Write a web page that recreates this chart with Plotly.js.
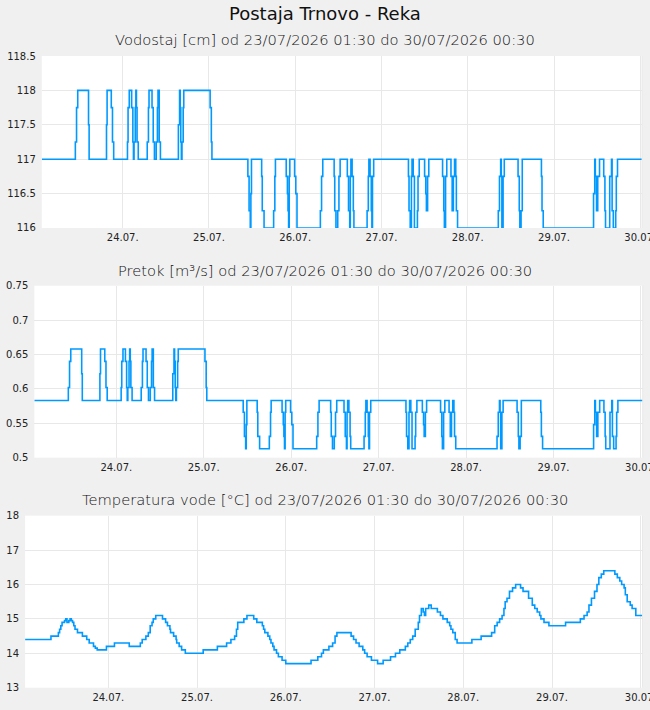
<!DOCTYPE html>
<html><head><meta charset="utf-8">
<script src="https://cdn.plot.ly/plotly-3.0.1.min.js"></script>
<style>html,body{margin:0;padding:0;background:#f0f0f0;overflow:hidden}#chart{width:650px;height:710px}</style>
</head><body><div id="chart"></div><script>
const mainTitle = 'Postaja Trnovo - Reka';
const subTitles = [
  'Vodostaj [cm] od 23/07/2026 01:30 do 30/07/2026 00:30',
  'Pretok [m³/s] od 23/07/2026 01:30 do 30/07/2026 00:30',
  'Temperatura vode [°C] od 23/07/2026 01:30 do 30/07/2026 00:30'
];
const xRange = ['2026-07-23 01:30', '2026-07-30 00:30'];
const dayTicks = ['2026-07-24','2026-07-25','2026-07-26','2026-07-27','2026-07-28','2026-07-29','2026-07-30'];
const dayLabels = ['24.07.','25.07.','26.07.','27.07.','28.07.','29.07.','30.07.'];

// water level [cm] and discharge [m3/s] - value changes (step series)
const levelTimes = [
 '2026-07-23 01:30','2026-07-23 10:50','2026-07-23 11:10','2026-07-23 11:30','2026-07-23 14:30','2026-07-23 14:40','2026-07-23 19:30','2026-07-23 19:40','2026-07-23 20:50','2026-07-23 21:10','2026-07-23 21:30',
 '2026-07-24 01:20','2026-07-24 01:30','2026-07-24 01:50','2026-07-24 02:30','2026-07-24 02:50','2026-07-24 03:00','2026-07-24 03:10','2026-07-24 03:30','2026-07-24 03:40','2026-07-24 03:50','2026-07-24 04:00','2026-07-24 04:20','2026-07-24 06:50','2026-07-24 07:10','2026-07-24 07:20','2026-07-24 08:10','2026-07-24 08:30','2026-07-24 08:50','2026-07-24 09:20','2026-07-24 09:40','2026-07-24 09:50','2026-07-24 10:10','2026-07-24 10:30','2026-07-24 15:30','2026-07-24 15:50','2026-07-24 16:00','2026-07-24 16:10','2026-07-24 16:20','2026-07-24 16:30','2026-07-24 16:50','2026-07-24 17:00',
 '2026-07-25 00:20','2026-07-25 00:40','2026-07-25 00:50','2026-07-25 10:50','2026-07-25 11:10','2026-07-25 11:30','2026-07-25 11:40','2026-07-25 11:50','2026-07-25 14:40','2026-07-25 14:50','2026-07-25 15:20','2026-07-25 18:00','2026-07-25 18:20','2026-07-25 18:30','2026-07-25 21:30','2026-07-25 21:50','2026-07-25 22:00','2026-07-25 22:10','2026-07-25 22:20','2026-07-25 22:30','2026-07-25 23:50',
 '2026-07-26 00:10','2026-07-26 00:30','2026-07-26 07:00','2026-07-26 07:20','2026-07-26 07:40','2026-07-26 10:50','2026-07-26 11:00','2026-07-26 11:20','2026-07-26 11:50','2026-07-26 12:10','2026-07-26 12:30','2026-07-26 14:30','2026-07-26 14:50','2026-07-26 15:10','2026-07-26 15:20','2026-07-26 15:30','2026-07-26 15:50','2026-07-26 16:10','2026-07-26 16:20','2026-07-26 20:00','2026-07-26 20:20','2026-07-26 20:30','2026-07-26 20:50','2026-07-26 21:10','2026-07-26 21:20','2026-07-26 21:30','2026-07-26 21:50',
 '2026-07-27 07:30','2026-07-27 07:40','2026-07-27 08:00','2026-07-27 08:20','2026-07-27 08:30','2026-07-27 08:50','2026-07-27 09:10','2026-07-27 10:00','2026-07-27 10:10','2026-07-27 10:30','2026-07-27 12:00','2026-07-27 12:20','2026-07-27 12:30','2026-07-27 12:50','2026-07-27 13:10','2026-07-27 17:00','2026-07-27 17:20','2026-07-27 17:30','2026-07-27 17:50','2026-07-27 18:10','2026-07-27 19:20','2026-07-27 19:40','2026-07-27 20:00','2026-07-27 20:20','2026-07-27 20:40','2026-07-27 20:50','2026-07-27 21:10',
 '2026-07-28 08:30','2026-07-28 08:50','2026-07-28 09:10','2026-07-28 09:20','2026-07-28 09:30','2026-07-28 09:50','2026-07-28 10:10','2026-07-28 14:00','2026-07-28 14:20','2026-07-28 14:30','2026-07-28 14:50','2026-07-28 15:10','2026-07-28 20:30','2026-07-28 20:40','2026-07-28 21:00',
 '2026-07-29 11:00','2026-07-29 11:20','2026-07-29 11:30','2026-07-29 11:50','2026-07-29 12:10','2026-07-29 12:40','2026-07-29 13:50','2026-07-29 14:10','2026-07-29 14:20','2026-07-29 15:30','2026-07-29 16:00','2026-07-29 16:10','2026-07-29 16:30','2026-07-29 17:10','2026-07-29 17:20','2026-07-29 17:40',
 '2026-07-30 00:30'
];
const levelValues = [
 117,117.25,117.75,118,117.5,117,117.5,118,117.75,117.25,117,
 117.25,117.75,118,117.75,117.25,117,117.25,117.75,118,117.75,117.25,117,117.25,117.75,118,117.75,117.25,117,117.25,117.75,118,117.25,117,117.5,118,117.75,117.25,117,117.25,117.75,118,
 117.75,117.25,117,116.75,116.25,116,116.5,117,116.75,116.25,116,116.25,116.75,117,116.75,116.5,116.25,116,116.75,117,116.75,
 116.5,116,116.25,116.75,117,116.75,116.25,116,116.25,116.75,117,116.75,116.25,116,116.75,117,116.75,116.25,116,116.25,116.75,117,116.75,116.25,116,116.75,117,
 116.75,116.25,116,116.75,117,116.75,116,116.25,116.75,117,116.75,116.5,116.25,116.75,117,116.75,116.25,116,116.75,117,116.75,116.25,116.75,117,116.75,116.25,116,
 116.25,116.75,117,116.75,116,116.75,117,116.75,116.25,116,116.25,117,116.75,116.25,116,
 116.5,117,116.75,116.25,116.75,117,116.75,116.25,116,116.75,117,116.25,116,116.25,116.75,117,
 117
];
const flowValues = [
 0.583,0.602,0.640,0.658,0.622,0.583,0.622,0.658,0.640,0.602,0.583,
 0.602,0.640,0.658,0.640,0.602,0.583,0.602,0.640,0.658,0.640,0.602,0.583,0.602,0.640,0.658,0.640,0.602,0.583,0.602,0.640,0.658,0.602,0.583,0.622,0.658,0.640,0.602,0.583,0.602,0.640,0.658,
 0.640,0.602,0.583,0.566,0.531,0.513,0.548,0.583,0.566,0.531,0.513,0.531,0.566,0.583,0.566,0.548,0.531,0.513,0.566,0.583,0.566,
 0.548,0.513,0.531,0.566,0.583,0.566,0.531,0.513,0.531,0.566,0.583,0.566,0.531,0.513,0.566,0.583,0.566,0.531,0.513,0.531,0.566,0.583,0.566,0.531,0.513,0.566,0.583,
 0.566,0.531,0.513,0.566,0.583,0.566,0.513,0.531,0.566,0.583,0.566,0.548,0.531,0.566,0.583,0.566,0.531,0.513,0.566,0.583,0.566,0.531,0.566,0.583,0.566,0.531,0.513,
 0.531,0.566,0.583,0.566,0.513,0.566,0.583,0.566,0.531,0.513,0.531,0.583,0.566,0.531,0.513,
 0.548,0.583,0.566,0.531,0.566,0.583,0.566,0.531,0.513,0.566,0.583,0.531,0.513,0.531,0.566,0.583,
 0.583
];

// water temperature [°C]
const tempTimes = [
 '2026-07-23 01:30','2026-07-23 08:30','2026-07-23 10:30','2026-07-23 10:50','2026-07-23 11:10','2026-07-23 11:30','2026-07-23 12:10','2026-07-23 12:30','2026-07-23 12:50','2026-07-23 13:20','2026-07-23 13:40','2026-07-23 14:00','2026-07-23 14:20','2026-07-23 14:40','2026-07-23 15:00','2026-07-23 15:40','2026-07-23 17:00','2026-07-23 18:10','2026-07-23 18:50','2026-07-23 20:00','2026-07-23 20:30','2026-07-23 21:00','2026-07-23 23:30',
 '2026-07-24 01:40','2026-07-24 05:40','2026-07-24 08:40','2026-07-24 09:10','2026-07-24 10:10','2026-07-24 10:50','2026-07-24 11:20','2026-07-24 11:50','2026-07-24 12:10','2026-07-24 12:50','2026-07-24 14:40','2026-07-24 15:30','2026-07-24 16:00','2026-07-24 16:40','2026-07-24 16:50','2026-07-24 17:40','2026-07-24 18:20','2026-07-24 18:30','2026-07-24 19:10','2026-07-24 19:50','2026-07-24 20:50',
 '2026-07-25 01:40','2026-07-25 05:30','2026-07-25 08:00','2026-07-25 09:10','2026-07-25 10:10','2026-07-25 10:40','2026-07-25 11:00','2026-07-25 12:40','2026-07-25 13:30','2026-07-25 15:20','2026-07-25 16:10','2026-07-25 17:40','2026-07-25 18:00','2026-07-25 18:20','2026-07-25 19:10','2026-07-25 19:40','2026-07-25 20:00','2026-07-25 20:30','2026-07-25 20:50','2026-07-25 21:30','2026-07-25 22:00','2026-07-25 23:00',
 '2026-07-26 00:00','2026-07-26 06:50','2026-07-26 08:40','2026-07-26 09:40','2026-07-26 10:10','2026-07-26 11:40','2026-07-26 12:40','2026-07-26 13:20','2026-07-26 13:50','2026-07-26 17:40','2026-07-26 18:20','2026-07-26 19:00','2026-07-26 19:50','2026-07-26 20:50','2026-07-26 21:20','2026-07-26 22:00','2026-07-26 23:10',
 '2026-07-27 00:50','2026-07-27 02:20','2026-07-27 04:20','2026-07-27 05:40','2026-07-27 06:50','2026-07-27 08:20','2026-07-27 09:00','2026-07-27 09:40','2026-07-27 10:20','2026-07-27 11:00','2026-07-27 11:50','2026-07-27 12:10','2026-07-27 12:40','2026-07-27 13:10','2026-07-27 13:30','2026-07-27 13:50','2026-07-27 14:40','2026-07-27 15:20','2026-07-27 17:00','2026-07-27 17:50','2026-07-27 18:30','2026-07-27 19:40','2026-07-27 20:20','2026-07-27 20:40','2026-07-27 21:10','2026-07-27 21:50','2026-07-27 22:20',
 '2026-07-28 02:20','2026-07-28 04:50','2026-07-28 07:40','2026-07-28 08:30','2026-07-28 09:10','2026-07-28 09:50','2026-07-28 10:30','2026-07-28 11:00','2026-07-28 11:20','2026-07-28 11:50','2026-07-28 12:30','2026-07-28 13:20','2026-07-28 14:10','2026-07-28 15:30','2026-07-28 16:10','2026-07-28 17:40','2026-07-28 18:40','2026-07-28 19:20','2026-07-28 20:00','2026-07-28 20:40','2026-07-28 21:00','2026-07-28 21:50','2026-07-28 23:10',
 '2026-07-29 03:40','2026-07-29 07:40','2026-07-29 08:40','2026-07-29 09:30','2026-07-29 10:00','2026-07-29 10:40','2026-07-29 11:30','2026-07-29 12:10','2026-07-29 12:40','2026-07-29 13:20','2026-07-29 14:00','2026-07-29 17:00','2026-07-29 17:40','2026-07-29 18:20','2026-07-29 18:50','2026-07-29 19:30','2026-07-29 19:50','2026-07-29 20:20','2026-07-29 21:10','2026-07-29 21:40','2026-07-29 22:40',
 '2026-07-30 00:30'
];
const tempValues = [
 14.4,14.5,14.6,14.7,14.8,14.9,14.95,15.0,14.9,14.95,15.0,14.95,14.9,14.8,14.7,14.6,14.5,14.4,14.3,14.2,14.15,14.1,14.2,
 14.3,14.2,14.3,14.4,14.5,14.6,14.8,14.9,15.0,15.1,15.0,14.9,14.8,14.7,14.6,14.5,14.4,14.3,14.2,14.1,14.0,
 14.1,14.2,14.3,14.4,14.5,14.7,14.9,15.0,15.1,15.0,14.9,14.8,14.7,14.6,14.5,14.4,14.3,14.2,14.1,14.0,13.9,13.8,
 13.7,13.8,13.9,14.0,14.1,14.2,14.3,14.5,14.6,14.5,14.4,14.3,14.2,14.1,14.0,13.9,13.8,
 13.7,13.8,13.9,14.0,14.1,14.2,14.3,14.4,14.5,14.7,14.9,15.1,15.3,15.2,15.1,15.3,15.4,15.3,15.2,15.1,15.0,14.9,14.8,14.7,14.6,14.4,14.3,
 14.4,14.5,14.6,14.8,14.9,15.0,15.1,15.3,15.5,15.6,15.8,15.9,16.0,15.9,15.8,15.6,15.4,15.3,15.2,15.1,15.0,14.9,14.8,
 14.9,15.0,15.1,15.2,15.4,15.6,15.8,16.0,16.2,16.3,16.4,16.3,16.2,16.1,16.0,15.9,15.7,15.5,15.4,15.3,15.1,
 15.1
];

const LINE = '#0099ff';
const GRID = '#e8e8e8';
const FONT = 'DejaVu Sans';
const tickFont = {family: FONT, size: 10, color: '#222'};

function xAxis(domain, anchor) {
  return {domain: domain, anchor: anchor, type: 'date', range: xRange, tickmode: 'array',
    tickvals: dayTicks, ticktext: dayLabels, showgrid: true, gridcolor: GRID, gridwidth: 1,
    zeroline: false, showline: false, ticks: '', tickfont: tickFont, ticklabeloverflow: 'allow',
    ticklabelstandoff: 2, fixedrange: true};
}
function yAxis(domain, anchor, range, dtick) {
  return {domain: domain, anchor: anchor, range: range, dtick: dtick, tick0: range[0],
    showgrid: true, gridcolor: GRID, gridwidth: 1, zeroline: false, showline: false, ticks: '',
    tickfont: tickFont, ticklabelstandoff: 5, fixedrange: true};
}

const traces = [
  {x: levelTimes, y: levelValues, type: 'scatter', mode: 'lines', line: {color: LINE, width: 1.6, shape: 'hv'}, xaxis: 'x', yaxis: 'y', hoverinfo: 'skip'},
  {x: levelTimes, y: flowValues, type: 'scatter', mode: 'lines', line: {color: LINE, width: 1.6, shape: 'hv'}, xaxis: 'x2', yaxis: 'y2', hoverinfo: 'skip'},
  {x: tempTimes, y: tempValues, type: 'scatter', mode: 'lines', line: {color: LINE, width: 1.6, shape: 'hv'}, xaxis: 'x3', yaxis: 'y3', hoverinfo: 'skip'}
];

const subFont = {family: FONT, size: 14.7, color: '#111', weight: 200};
const layout = {
  width: 650, height: 710,
  margin: {l: 0, r: 0, t: 0, b: 0},
  paper_bgcolor: '#f0f0f0', plot_bgcolor: '#ffffff',
  showlegend: false,
  font: {family: FONT, color: '#222'},
  xaxis: xAxis([0.0643, 0.9878], 'y'),
  yaxis: yAxis([0.6789, 0.9211], 'x', [116, 118.5], 0.5),
  xaxis2: xAxis([0.0528, 0.9889], 'y2'),
  yaxis2: yAxis([0.3554, 0.5976], 'x2', [0.5, 0.75], 0.05),
  xaxis3: xAxis([0.0386, 0.9886], 'y3'),
  yaxis3: yAxis([0.0314, 0.2737], 'x3', [13, 18], 1),
  shapes: ['', '2', '3'].map(s => ({type: 'line', xref: 'x' + s + ' domain', yref: 'y' + s + ' domain',
    x0: 1, x1: 1, y0: 0, y1: 1, line: {color: GRID, width: 1}})),
  annotations: [
    {text: mainTitle, xref: 'paper', yref: 'paper', x: 0.5, y: 0.9803, xanchor: 'center', yanchor: 'middle', showarrow: false, font: {family: FONT, size: 18, color: '#111'}},
    {text: subTitles[0], xref: 'paper', yref: 'paper', x: 0.5, y: 0.9437, xanchor: 'center', yanchor: 'middle', showarrow: false, font: subFont},
    {text: subTitles[1], xref: 'paper', yref: 'paper', x: 0.5, y: 0.6197, xanchor: 'center', yanchor: 'middle', showarrow: false, font: subFont},
    {text: subTitles[2], xref: 'paper', yref: 'paper', x: 0.5, y: 0.2958, xanchor: 'center', yanchor: 'middle', showarrow: false, font: subFont}
  ]
};

Plotly.newPlot('chart', traces, layout, {staticPlot: true, displayModeBar: false});
</script></body></html>
